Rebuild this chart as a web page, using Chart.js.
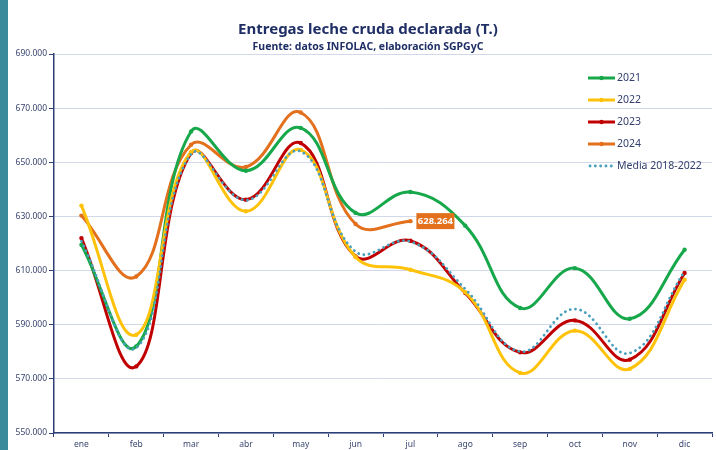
<!DOCTYPE html>
<html>
<head>
<meta charset="utf-8">
<script src="https://cdn.jsdelivr.net/npm/chart.js@4.4.1/dist/chart.umd.min.js"></script>
<style>
html,body{margin:0;padding:0;background:#fff;}
#wrap{position:relative;width:716px;height:450px;overflow:hidden;}
#strip{position:absolute;left:0;top:0;width:8px;height:450px;background:#3a8a9c;}
canvas{position:absolute;left:0;top:0;}
</style>
</head>
<body>
<div id="wrap"><div id="strip"></div><canvas id="c" width="716" height="450"></canvas></div>
<script>
const months = ["ene","feb","mar","abr","may","jun","jul","ago","sep","oct","nov","dic"];
const y2021 = [619500, 582000, 661400, 646900, 662700, 631300, 639000, 626600, 596200, 610900, 592200, 617700];
const y2022 = [634000, 586300, 653800, 631900, 654600, 615000, 610300, 602000, 572200, 587800, 573700, 606600];
const y2023 = [622000, 574600, 653400, 636200, 657100, 615200, 621000, 601700, 579800, 591600, 577100, 609100];
const y2024 = [630300, 607800, 656500, 648300, 668400, 627200, 628264];
const media = [620800, 581500, 653000, 636000, 654000, 617000, 620700, 603200, 580100, 595800, 579500, 609700];
const yTicks = [550000, 570000, 590000, 610000, 630000, 650000, 670000, 690000];
const titleText = "Entregas leche cruda declarada (T.)";
const subtitleText = "Fuente: datos INFOLAC, elaboración SGPGyC";
const lastLabel = "628.264";

const navy = "#2e3e78";
const fontFam = "'Noto Sans', 'Open Sans', sans-serif";

function fmt(v){ return Math.round(v).toString().replace(/\B(?=(\d{3})+(?!\d))/g, "."); }

function ds(label, data, color, dotted){
  return {
    label, data,
    borderColor: color, backgroundColor: color,
    borderWidth: dotted ? 2.8 : 3,
    borderDash: dotted ? [0.1, 5.2] : [],
    borderCapStyle: dotted ? 'round' : 'butt',
    tension: 0.42,
    pointRadius: dotted ? 0 : 2.2,
    pointBorderWidth: 0,
    pointBackgroundColor: color,
    fill: false,
    dotted
  };
}

const datasets = [
  ds("2021", y2021, "#16a84a", false),
  ds("2022", y2022, "#ffc20a", false),
  ds("2023", y2023, "#c00000", false),
  ds("2024", y2024, "#e2701c", false),
  ds("Media 2018-2022", media, "#4aa0bc", true)
];
const drawOrder = [4,1,0,3,2];
datasets.forEach((d,i)=>{ d.order = drawOrder.indexOf(i); });

const deco = {
  id: 'deco',
  afterDraw(chart){
    const ctx = chart.ctx;
    const ca = chart.chartArea;
    ctx.save();
    // titles
    ctx.fillStyle = "#1f2f66";
    ctx.textAlign = "center";
    ctx.textBaseline = "middle";
    ctx.font = "bold 15px " + fontFam;
    ctx.fillText(titleText, 368, 30);
    ctx.font = "bold 10.5px " + fontFam;
    ctx.fillText(subtitleText, 368, 47);
    // legend
    const lx = ca.right - 124, ly0 = ca.top + 24, step = 22;
    chart.data.datasets.forEach((d, i) => {
      const y = ly0 + i*step;
      ctx.strokeStyle = d.borderColor;
      ctx.lineWidth = d.borderWidth;
      ctx.setLineDash(d.borderDash || []);
      ctx.lineCap = d.dotted ? 'round' : 'butt';
      ctx.beginPath(); ctx.moveTo(lx + (d.dotted ? 2 : 0), y); ctx.lineTo(lx+27, y); ctx.stroke();
      ctx.setLineDash([]);
      if (!d.dotted) {
        ctx.fillStyle = d.borderColor;
        ctx.beginPath(); ctx.arc(lx+13.5, y, 2.2, 0, Math.PI*2); ctx.fill();
      }
      ctx.fillStyle = "#34406e";
      ctx.textAlign = "left";
      ctx.font = "10.5px " + fontFam;
      ctx.fillText(d.label, lx+29, y+0.5);
    });
    // last value label for 2024
    const meta = chart.getDatasetMeta(3);
    const pt = meta.data[meta.data.length-1];
    const bx = pt.x + 6, by = pt.y - 8, bw = 38, bh = 16;
    ctx.fillStyle = "#e2701c";
    ctx.fillRect(bx, by, bw, bh);
    ctx.fillStyle = "#ffffff";
    ctx.textAlign = "center";
    ctx.font = "bold 9.5px " + fontFam;
    ctx.fillText(lastLabel, bx + bw/2, by + bh/2 + 0.5);
    ctx.restore();
  }
};

new Chart(document.getElementById('c'), {
  type: 'line',
  data: { labels: months, datasets },
  options: {
    responsive: false,
    animation: false,
    devicePixelRatio: 1,
    layout: { padding: { top: 54, right: 0, left: 0, bottom: 0 } },
    plugins: { legend: { display: false }, tooltip: { enabled: false }, title: { display: false } },
    scales: {
      x: {
        offset: true,
        grid: { offset: true, drawOnChartArea: false, drawTicks: true, tickLength: 4, tickColor: navy, tickWidth: 1 },
        border: { color: navy, width: 1.5 },
        ticks: { color: "#3a4670", font: { family: fontFam, size: 8.5 }, padding: 2, maxRotation: 0 },
        afterFit(s){ s.height = 17; }
      },
      y: {
        min: yTicks[0], max: yTicks[yTicks.length-1],
        afterBuildTicks(s){ s.ticks = yTicks.map(v => ({ value: v })); },
        grid: { color: "#d3d8e8", lineWidth: 1, drawTicks: true, tickLength: 5, tickColor: navy },
        border: { color: navy, width: 1.5 },
        ticks: { color: "#3a4670", font: { family: fontFam, size: 8.5 }, padding: 2, callback: v => fmt(v) },
        afterFit(s){ s.width = 54; }
      }
    }
  },
  plugins: [deco]
});
</script>
</body>
</html>
